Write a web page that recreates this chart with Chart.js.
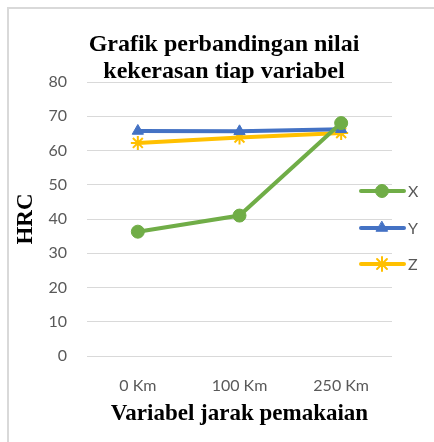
<!DOCTYPE html>
<html>
<head>
<meta charset="utf-8">
<script src="https://cdn.jsdelivr.net/npm/chart.js@4"></script>
<style>
    html, body { margin: 0; padding: 0; background: #fff; }
    #wrap { width: 434px; height: 442px; position: relative; }
</style>
</head>
<body>
<div id="wrap"><canvas id="chart" width="434" height="442"></canvas></div>
<script>
const categories = ["0 Km", "100 Km", "250 Km"];
const seriesNames = ["X", "Y", "Z"];
const valuesX = [36.3, 41, 68];
const valuesY = [65.7, 65.6, 66.2];
const valuesZ = [62.2, 63.8, 65.1];
const yTicks = [0, 10, 20, 30, 40, 50, 60, 70, 80];
const titleLines = ["Grafik perbandingan nilai", "kekerasan tiap variabel"];

const green = "#70AD47";
const blue = "#4472C4";
const yellow = "#FFC000";
const textGray = "#595959";

// frame (only top and left edges show) and the chart title
const framePlugin = {
    id: "frame",
    beforeDraw(chart) {
        const ctx = chart.ctx;
        ctx.save();
        ctx.fillStyle = "#fff";
        ctx.fillRect(0, 0, chart.width, chart.height);
        ctx.strokeStyle = "#d9d9d9";
        ctx.lineWidth = 2;
        ctx.beginPath();
        ctx.moveTo(8, chart.height);
        ctx.lineTo(8, 8);
        ctx.lineTo(chart.width, 8);
        ctx.stroke();
        ctx.restore();
    },
    afterDraw(chart) {
        const ctx = chart.ctx;
        ctx.save();
        ctx.fillStyle = "#000";
        ctx.font = "bold 24px 'Liberation Serif'";
        ctx.textAlign = "center";
        ctx.textBaseline = "middle";
        ctx.fillText(titleLines[0], 224, 45);
        ctx.fillText(titleLines[1], 224, 72);
        ctx.restore();
    }
};

// legend drawn by hand so it can sit over the right end of the plot
const sideLegend = {
    id: "sideLegend",
    afterDatasetsDraw(chart) {
        const ctx = chart.ctx;
        const rows = [191, 228, 264];
        ctx.save();
        chart.data.datasets.forEach((ds, i) => {
            const y = rows[i];
            ctx.strokeStyle = ds.borderColor;
            ctx.fillStyle = ds.borderColor;
            ctx.lineWidth = 4;
            ctx.lineCap = "round";
            ctx.beginPath();
            ctx.moveTo(361, y);
            ctx.lineTo(404, y);
            ctx.stroke();
            ctx.lineWidth = ds.pointBorderWidth;
            Chart.helpers.drawPoint(ctx, {
                pointStyle: ds.pointStyle,
                radius: ds.pointRadius,
                borderWidth: ds.pointBorderWidth
            }, 382, y);
            ctx.fillStyle = textGray;
            ctx.font = "16px Lato";
            ctx.textBaseline = "middle";
            ctx.textAlign = "left";
            ctx.fillText(ds.label, 408, y + 1);
        });
        ctx.restore();
    }
};

function makeSet(label, data, color, style, radius, bw) {
    return {
        label: label,
        data: data,
        borderColor: color,
        backgroundColor: color,
        pointBackgroundColor: color,
        pointBorderColor: color,
        borderWidth: 4,
        pointStyle: style,
        pointRadius: radius,
        pointHoverRadius: radius,
        pointBorderWidth: bw,
        tension: 0
    };
}

const chart = new Chart(document.getElementById("chart"), {
    type: "line",
    data: {
        labels: categories,
        datasets: [
            makeSet(seriesNames[0], valuesX, green, "circle", 6.5, 1),
            makeSet(seriesNames[1], valuesY, blue, "triangle", 6.5, 1),
            makeSet(seriesNames[2], valuesZ, yellow, "star", 7, 2)
        ]
    },
    options: {
        responsive: false,
        animation: false,
        layout: {
            padding: { left: 8, right: 42, top: 82, bottom: 14 }
        },
        plugins: {
            legend: { display: false },
            tooltip: { enabled: false },
            title: { display: false }
        },
        scales: {
            x: {
                offset: true,
                grid: { display: false },
                border: { display: false },
                ticks: {
                    color: textGray,
                    font: { family: "Lato", size: 16 },
                    padding: 12
                },
                title: {
                    display: true,
                    text: "Variabel jarak pemakaian",
                    color: "#000",
                    font: { family: "'Liberation Serif'", size: 23, weight: "bold" },
                    padding: { top: 4, bottom: 0 }
                },
                afterFit(scale) { scale.height = 72; }
            },
            y: {
                min: 0,
                max: 80,
                afterBuildTicks(scale) {
                    scale.ticks = yTicks.map(v => ({ value: v }));
                },
                grid: { color: "#d9d9d9", lineWidth: 1, drawTicks: false },
                border: { display: false },
                ticks: {
                    color: textGray,
                    font: { family: "Lato", size: 16 },
                    padding: 20
                },
                title: {
                    display: true,
                    text: "HRC",
                    color: "#000",
                    font: { family: "'Liberation Serif'", size: 23, weight: "bold" },
                    padding: { top: 4, bottom: 0 }
                },
                afterFit(scale) { scale.width = 79; }
            }
        }
    },
    plugins: [framePlugin, sideLegend]
});
</script>
</body>
</html>
